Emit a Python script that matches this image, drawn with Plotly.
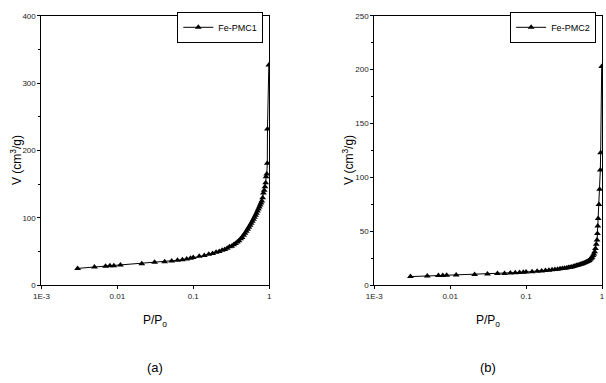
import plotly.graph_objects as go

# Fe-PMC1 adsorption isotherm
p1 = [0.003, 0.005, 0.007, 0.008, 0.009, 0.011, 0.021, 0.031, 0.042, 0.052, 0.062, 0.072,
      0.082, 0.092, 0.10, 0.12, 0.14, 0.16, 0.18, 0.20, 0.22, 0.24, 0.26, 0.28, 0.30, 0.32,
      0.34, 0.36, 0.38, 0.40, 0.42, 0.44, 0.46, 0.48, 0.50, 0.52, 0.54, 0.56, 0.58, 0.60,
      0.62, 0.64, 0.66, 0.68, 0.70, 0.72, 0.74, 0.76, 0.78, 0.80, 0.82, 0.84, 0.86, 0.88,
      0.90, 0.91, 0.93, 0.945, 0.95, 0.99]
v1 = [25, 27, 28, 29, 29, 30, 32, 34, 35, 36, 37, 38,
      39, 40, 41, 43, 44, 46, 47, 49, 50, 52, 53, 55, 57, 58,
      60, 62, 64, 66, 69, 71, 74, 77, 80, 83, 86, 89, 92, 95,
      98, 101, 104, 107, 110, 113, 116, 119, 122, 125, 130, 137, 141, 146,
      152, 161, 165, 181, 232, 327]

# Fe-PMC2 adsorption isotherm
p2 = [0.003, 0.005, 0.007, 0.008, 0.009, 0.012, 0.021, 0.031, 0.042, 0.052, 0.062, 0.072,
      0.082, 0.092, 0.10, 0.12, 0.14, 0.16, 0.18, 0.20, 0.22, 0.24, 0.26, 0.28, 0.30, 0.32,
      0.34, 0.36, 0.38, 0.40, 0.42, 0.44, 0.46, 0.48, 0.50, 0.52, 0.54, 0.56, 0.58, 0.60,
      0.62, 0.64, 0.66, 0.68, 0.70, 0.72, 0.74, 0.76, 0.78, 0.80, 0.82, 0.84, 0.86, 0.87,
      0.88, 0.89, 0.91, 0.93, 0.95, 0.96, 0.99]
v2 = [8, 8.5, 9, 9, 9.2, 9.5, 10, 10.5, 11, 11, 11.3, 11.6,
      11.8, 12, 12.2, 12.6, 13, 13.3, 13.6, 14, 14.3, 14.6, 14.9, 15.2, 15.5, 15.8,
      16.1, 16.4, 16.7, 17, 17.4, 17.8, 18.2, 18.6, 19, 19.4, 19.8, 20.2, 20.6, 21,
      21.5, 22, 22.5, 23, 24, 25, 26, 27.5, 29, 31, 34, 38, 42, 48,
      55, 62, 75, 89, 107, 123, 203]

xticks = [0.001, 0.01, 0.1, 1]
xticktext = ["1E-3", "0.01", "0.1", "1"]
names = ["Fe-PMC1", "Fe-PMC2"]
panel_labels = ["(a)", "(b)"]

W, H = 606, 383
FONT = "Liberation Sans, Arial, sans-serif"
tickfont = dict(family=FONT, size=8, color="#222")

fig = go.Figure()
for i, (p, v) in enumerate([(p1, v1), (p2, v2)]):
    fig.add_trace(go.Scatter(
        x=p, y=v, mode="lines+markers", name=names[i],
        line=dict(color="black", width=1),
        marker=dict(symbol="triangle-up", size=6, color="black"),
        xaxis="x" if i == 0 else "x2", yaxis="y" if i == 0 else "y2",
        legend="legend" if i == 0 else "legend2",
    ))

xd1 = [34 / W, 266 / W]
xd2 = [373 / W, 605 / W]
yd = [1 - 288 / H, 1 - 12 / H]

axis_common = dict(showline=True, linecolor="black", linewidth=1, mirror=True,
                   ticks="outside", ticklen=3, tickcolor="black", showgrid=False,
                   zeroline=False, tickfont=tickfont)

legfont = dict(family=FONT, size=9, color="black")
fig.update_layout(
    width=W, height=H, margin=dict(l=0, r=0, t=0, b=0),
    paper_bgcolor="white", plot_bgcolor="white",
    xaxis=dict(domain=xd1, type="log", range=[-3, 0], tickvals=xticks, ticktext=xticktext,
               anchor="y", **axis_common),
    yaxis=dict(domain=yd, range=[0, 400], tickvals=[0, 100, 200, 300, 400], anchor="x",
               minor=dict(ticks="outside", ticklen=2, tickcolor="black", dtick=50),
               **axis_common),
    xaxis2=dict(domain=xd2, type="log", range=[-3, 0], tickvals=xticks, ticktext=xticktext,
                anchor="y2", **axis_common),
    yaxis2=dict(domain=yd, range=[0, 250], tickvals=[0, 50, 100, 150, 200, 250], anchor="x2",
                minor=dict(ticks="outside", ticklen=2, tickcolor="black", dtick=25),
                **axis_common),
    legend=dict(x=(266 - 6) / W, y=1 - 8 / H, xanchor="right", yanchor="top", bgcolor="white",
                bordercolor="black", borderwidth=1, itemwidth=30, font=legfont,
                tracegroupgap=0),
    legend2=dict(x=(605 - 6) / W, y=1 - 8 / H, xanchor="right", yanchor="top", bgcolor="white",
                 bordercolor="black", borderwidth=1, itemwidth=30, font=legfont,
                 tracegroupgap=0),
    showlegend=True,
)

annos = []
for i, xd in enumerate([xd1, xd2]):
    cx = (xd[0] + xd[1]) / 2
    annos.append(dict(text="P/P<sub>o</sub>", x=cx, y=1 - 325 / H, xref="paper", yref="paper",
                      xanchor="center", yanchor="middle", showarrow=False,
                      font=dict(family=FONT, size=12, color="black")))
    annos.append(dict(text=panel_labels[i], x=cx, y=1 - 372 / H, xref="paper", yref="paper",
                      xanchor="center", yanchor="middle", showarrow=False,
                      font=dict(family=FONT, size=13, color="black")))
    annos.append(dict(text="V (cm<sup>3</sup>/g)", x=(xd[0] * W - 26) / W, y=1 - 160 / H,
                      xref="paper", yref="paper", xanchor="center", yanchor="middle",
                      textangle=-90, showarrow=False,
                      font=dict(family=FONT, size=12, color="black")))
fig.update_layout(annotations=annos)

fig.write_html("out.html")
